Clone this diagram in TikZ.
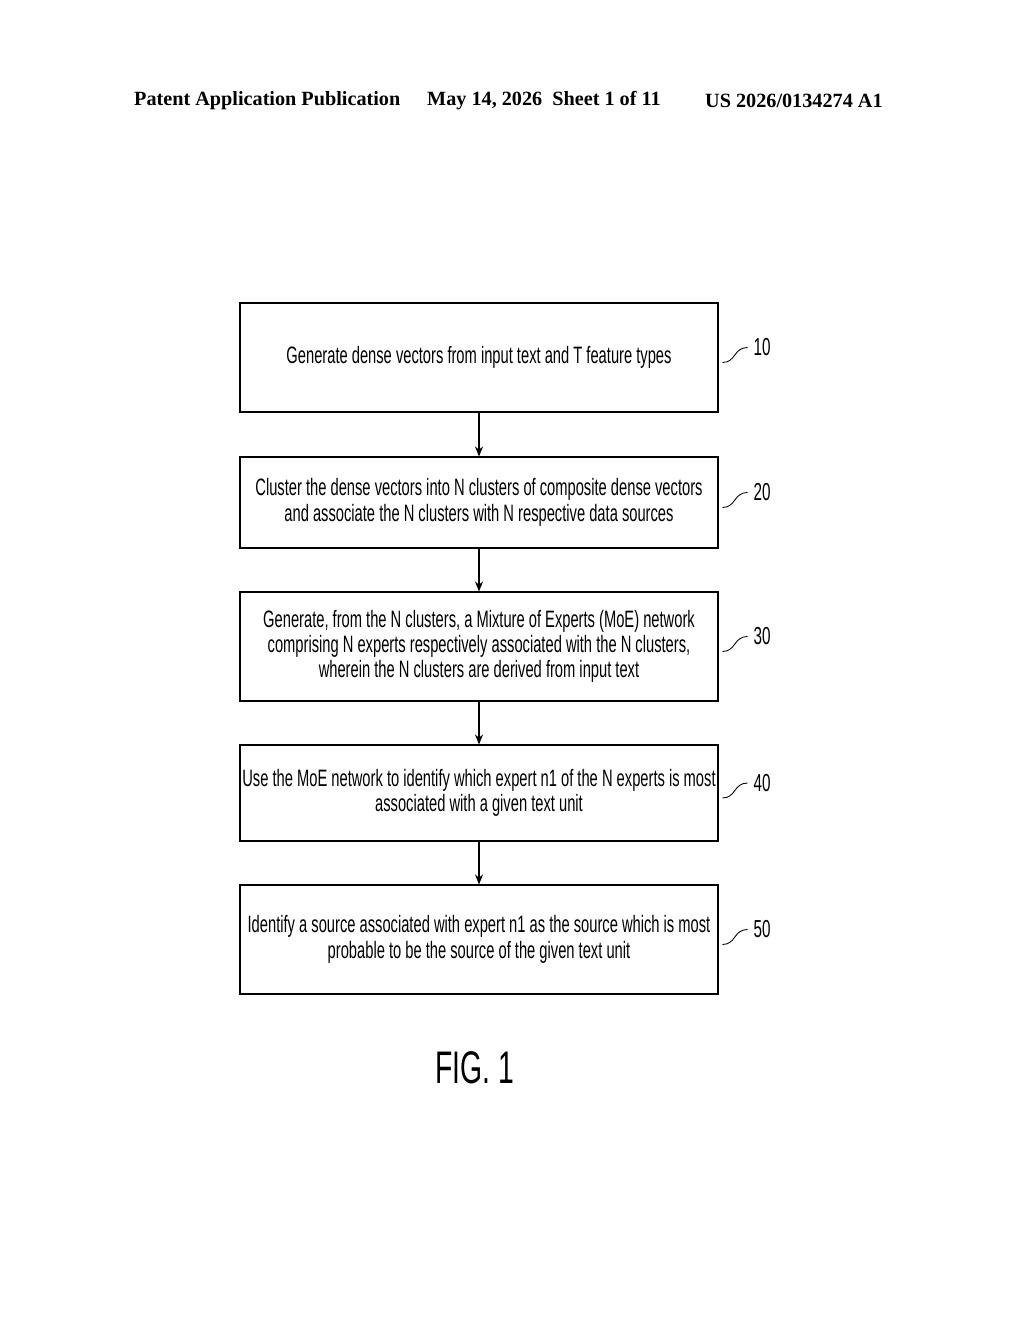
\documentclass[tikz,border=0pt]{standalone}
\usepackage{fontspec}
\setmainfont{Liberation Serif}
\newfontfamily\narrow[FakeStretch=0.62]{Liberation Sans}
\usetikzlibrary{arrows.meta}
\tikzset{
  stepbox/.style={draw, line width=0.6pt, minimum width=9.56cm,
    align=center, inner sep=0pt, font=\narrow\fontsize{13.5}{14.4}\selectfont},
  reflabel/.style={font=\narrow\fontsize{14}{16}\selectfont, anchor=west},
  flow/.style={-{Stealth[length=2mm,width=1.6mm]}, line width=0.6pt}
}
\begin{document}
\begin{tikzpicture}
        \useasboundingbox (0, 0) rectangle (20.48, 26.4);
        % header
        \node[font=\bfseries\fontsize{11.5}{14}\selectfont, anchor=west] (hdra) at (2.56, 24.38) {Patent Application Publication};
        \node[font=\bfseries\fontsize{11.5}{14}\selectfont, anchor=west] (hdrb) at (8.42, 24.38) {May 14, 2026\ \ Sheet 1 of 11};
        \node[font=\bfseries\fontsize{11.5}{14}\selectfont, anchor=west] (hdrc) at (13.98, 24.38) {US 2026/0134274 A1};

        % steps
        \node[stepbox, minimum height=2.18cm] (s10) at (9.58, 19.25) {Generate dense vectors from input text and T feature types};
        \node[stepbox, minimum height=1.82cm] (s20) at (9.58, 16.35) {Cluster the dense vectors into N clusters of composite dense vectors\\and associate the N clusters with N respective data sources};
        \node[stepbox, minimum height=2.18cm] (s30) at (9.58, 13.47) {Generate, from the N clusters, a Mixture of Experts (MoE) network\\comprising N experts respectively associated with the N clusters,\\wherein the N clusters are derived from input text};
        \node[stepbox, minimum height=1.92cm] (s40) at (9.58, 10.54) {Use the MoE network to identify which expert n1 of the N experts is most\\associated with a given text unit};
        \node[stepbox, minimum height=2.18cm] (s50) at (9.58, 7.61) {Identify a source associated with expert n1 as the source which is most\\probable to be the source of the given text unit};

        \draw[flow] (s10) -- (s20);
        \draw[flow] (s20) -- (s30);
        \draw[flow] (s30) -- (s40);
        \draw[flow] (s40) -- (s50);

        % reference numerals
        \foreach \s/\n in {s10/10, s20/20, s30/30, s40/40, s50/50} {
            \node[reflabel] (l\n) at ([xshift=0.58cm, yshift=0.2cm]\s.east) {\n};
            \draw[line width=0.5pt] ([xshift=0.08cm, yshift=-0.1cm]\s.east)
                .. controls ([xshift=0.35cm, yshift=-0.1cm]\s.east) and ([xshift=0.3cm, yshift=0.2cm]\s.east) .. (l\n.west);
        }

        \node[font=\fontsize{26}{28}\selectfont] (fig) at (9.5, 5.04) {\narrow\fontsize{26}{28}\selectfont FIG. 1};
    \end{tikzpicture}
\end{document}
